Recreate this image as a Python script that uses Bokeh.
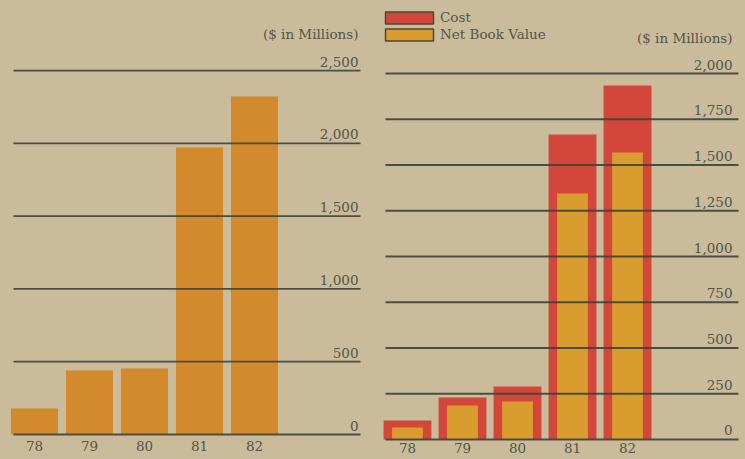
from bokeh.plotting import figure
from bokeh.layouts import row
from bokeh.models import Range1d, ColumnDataSource, Legend, LegendItem
from bokeh.embed import file_html
from bokeh.resources import INLINE
from bokeh.core.properties import value

# ---- data ----
years = ["78", "79", "80", "81", "82"]
left_values = [178, 440, 453, 1971, 2321]          # ($ in Millions)
cost = [104, 230, 290, 1667, 1934]
net_book_value = [66, 186, 208, 1344, 1568]

left_ticks = [0, 500, 1000, 1500, 2000, 2500]
left_tick_labels = ["0", "500", "1,000", "1,500", "2,000", "2,500"]
right_ticks = [0, 250, 500, 750, 1000, 1250, 1500, 1750, 2000]
right_tick_labels = ["0", "250", "500", "750", "1,000", "1,250", "1,500", "1,750", "2,000"]
unit_label = "($ in Millions)"
legend_labels = ["Cost", "Net Book Value"]

# ---- style ----
BG = "#cabb9b"
GRID = "#3a453b"
TEXT = "#51564b"
ORANGE = "#d38a2c"
RED = "#d2473a"
GOLD = "#d99c2f"
FONT = "DejaVu Serif"
FS = "13.5px"

idx = list(range(len(years)))


def base_fig(width, xr, yr):
    p = figure(width=width, height=459, x_range=xr, y_range=yr,
               output_backend="svg", toolbar_location=None,
               min_border=0, background_fill_color=BG, border_fill_color=BG)
    p.axis.visible = False
    p.grid.visible = False
    p.outline_line_color = None
    return p


def decorate(p, ticks, tick_labels, grid_x0, grid_x1, label_x, label_top_offset, cat_offset):
    # gridlines (drawn above bars)
    p.segment(x0=[grid_x0] * len(ticks), x1=[grid_x1] * len(ticks), y0=ticks, y1=ticks,
              line_color=GRID, line_width=1.8, line_alpha=0.9)
    # value labels sitting above each gridline at the right
    p.text(x=[label_x] * len(ticks), y=ticks, text=tick_labels,
           text_align="right", text_baseline="bottom", y_offset=-4,
           text_font=value(FONT), text_font_size=FS, text_color=TEXT)
    # unit label
    p.text(x=[label_x], y=[ticks[-1]], text=[unit_label],
           text_align="right", text_baseline="middle", y_offset=-label_top_offset,
           text_font=value(FONT), text_font_size=FS, text_color=TEXT)
    # category labels
    p.text(x=idx, y=[0] * len(idx), text=years,
           text_align="center", text_baseline="top", y_offset=cat_offset,
           text_font=value(FONT), text_font_size=FS, text_color=TEXT)


# ---- left chart ----
left = base_fig(372, Range1d(-0.618, 6.145), Range1d(-171.7, 2981))
left.vbar(x=idx, top=left_values, bottom=0, width=0.855, fill_color=ORANGE, line_color=None)
decorate(left, left_ticks, left_tick_labels, -0.382, 5.927, 5.89, 37, 6)

# ---- right chart ----
right = base_fig(373, Range1d(-0.636, 6.145), Range1d(-109.3, 2399))
src = ColumnDataSource(dict(x=idx, cost=cost, nbv=net_book_value))
r_cost = right.vbar(x="x", top="cost", bottom=0, width=0.87, source=src,
                    fill_color=RED, line_color=None)
r_nbv = right.vbar(x="x", top="nbv", bottom=0, width=0.56, source=src,
                   fill_color=GOLD, line_color=None)
decorate(right, right_ticks, right_tick_labels, -0.4, 6.018, 5.909, 36, 4)

# legend swatches (with dark outline as in the original); the glyph point lies off-screen
sw_cost = right.rect(x=[-50], y=[-5000], width=1, height=1, fill_color=RED,
                     line_color="#4a4a3a", line_width=1.5)
sw_nbv = right.rect(x=[-50], y=[-5000], width=1, height=1, fill_color=GOLD,
                    line_color="#4a4a3a", line_width=1.5)
legend = Legend(items=[LegendItem(label=legend_labels[0], renderers=[sw_cost]),
                       LegendItem(label=legend_labels[1], renderers=[sw_nbv])],
                location=(7, 417), orientation="vertical",
                glyph_width=60, glyph_height=15, label_height=15, label_width=20,
                spacing=1, padding=0, margin=0, label_standoff=1,
                label_text_font=FONT, label_text_font_size=FS, label_text_color=TEXT,
                border_line_color=None, background_fill_alpha=0)
right.add_layout(legend)

layout = row(left, right, spacing=0, styles={"background-color": BG})
open("out.html", "w").write(file_html(layout, INLINE))
